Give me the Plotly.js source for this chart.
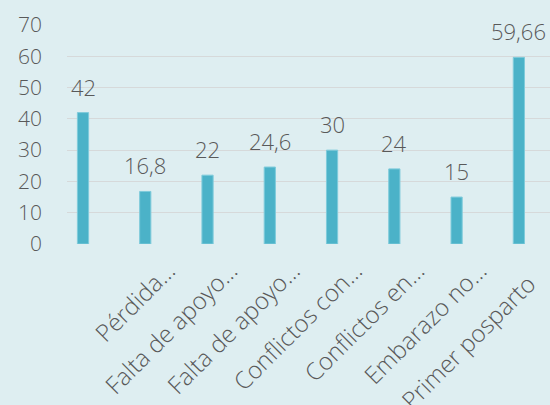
<!DOCTYPE html>
<html>
<head>
<meta charset="utf-8">
<script src="https://cdn.plot.ly/plotly-3.0.1.min.js"></script>
<style>
html,body{margin:0;padding:0;background:#deeef1;}
#chart{width:550px;height:405px;}
</style>
</head>
<body>
<div id="chart"></div>
<script>
// Data
const categoryLabels = ["", "Pérdida…", "Falta de apoyo…", "Falta de apoyo…", "Conflictos con…", "Conflictos en…", "Embarazo no…", "Primer posparto\u00a0\u00a0\u00a0"];
const values = [42, 16.8, 22, 24.6, 30, 24, 15, 59.66];
const yTicks = [0, 10, 20, 30, 40, 50, 60, 70];

const idx = values.map((v, i) => i);
const fmt = v => String(v).replace('.', ',');

const textColor = '#595959';
const fontFamily = '"Open Sans", "Noto Sans", sans-serif';

const trace = {
  type: 'bar',
  x: idx,
  y: values,
  width: 0.18,
  marker: {color: '#4bb2c8', line: {color: '#7fcbdb', width: 1}},
  hoverinfo: 'skip'
};

const annotations = values.map((v, i) => ({
  x: i, y: v, xref: 'x', yref: 'y',
  text: fmt(v), showarrow: false,
  yanchor: 'bottom', yshift: 9,
  font: {family: fontFamily, size: 22, color: textColor, weight: 300}
}));

const layout = {
  width: 550, height: 405,
  margin: {l: 67, r: 0, t: 25, b: 161, pad: 0},
  paper_bgcolor: '#deeef1',
  plot_bgcolor: '#deeef1',
  showlegend: false,
  separators: ',.',
  xaxis: {
    range: [-0.257, 7.5],
    tickvals: idx,
    ticktext: categoryLabels,
    tickangle: -45,
    showgrid: false, zeroline: false, showline: false,
    ticks: '',
    ticklabelshift: 23,
    ticklabelstandoff: 7,
    ticklabeloverflow: 'allow',
    tickfont: {family: fontFamily, size: 24, color: textColor, weight: 300},
    fixedrange: true
  },
  yaxis: {
    range: [0, 70],
    tickvals: yTicks,
    showgrid: true, gridcolor: '#d6d9da', gridwidth: 1,
    zeroline: false, showline: false,
    ticks: '',
    ticklabelstandoff: 24,
    tickfont: {family: fontFamily, size: 21, color: textColor, weight: 300},
    fixedrange: true
  },
  annotations: annotations
};

Plotly.newPlot('chart', [trace], layout, {displayModeBar: false, staticPlot: true});
</script>
</body>
</html>
